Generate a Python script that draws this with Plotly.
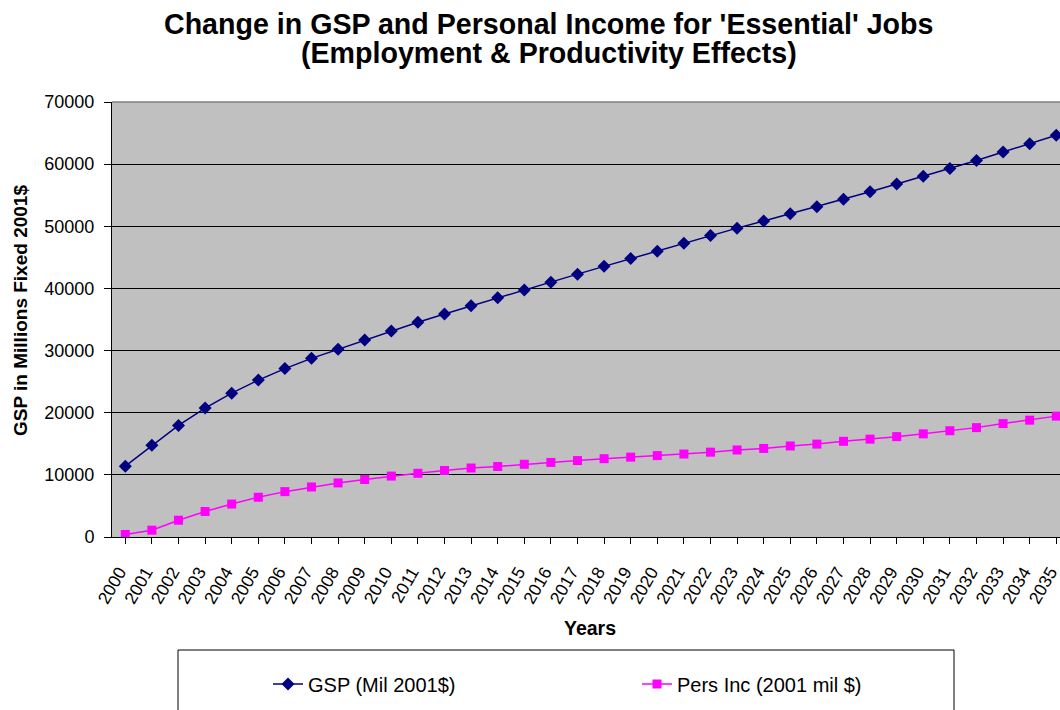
import plotly.graph_objects as go

years = [str(y) for y in range(2000, 2036)]
gsp = [11400, 14750, 17950, 20750, 23150, 25250, 27100, 28750, 30200, 31700,
       33150, 34550, 35900, 37200, 38500, 39750, 41000, 42300, 43550, 44800,
       46000, 47250, 48500, 49700, 50850, 52000, 53150, 54350, 55550, 56800,
       58050, 59300, 60600, 61950, 63300, 64650]
pers_inc = [400, 1100, 2700, 4100, 5300, 6400, 7300, 8050, 8700, 9250,
            9800, 10250, 10700, 11100, 11350, 11700, 12000, 12300, 12600, 12850,
            13100, 13350, 13650, 14000, 14250, 14650, 14950, 15400, 15750, 16150,
            16600, 17100, 17600, 18250, 18800, 19450]

title_lines = ["Change in GSP and Personal Income for 'Essential' Jobs",
               "(Employment &amp; Productivity Effects)"]
x_title = "Years"
y_title = "GSP in Millions Fixed 2001$"

FONT = "Liberation Sans, Arial, sans-serif"

# pixel helpers for the 1060x710 canvas (plot area 112..1060 x 102..537)
L, R, T, B = 112, 1060, 102, 537
def px(x):
    return (x - L) / (R - L)
def py(y):
    return (B - y) / (B - T)

fig = go.Figure()
fig.add_trace(go.Scatter(
    x=years, y=gsp, mode="lines+markers", name="GSP (Mil 2001$)",
    line=dict(color="#000080", width=1.5),
    marker=dict(symbol="diamond", size=10, color="#000080"),
    legend="legend",
))
fig.add_trace(go.Scatter(
    x=years, y=pers_inc, mode="lines+markers", name="Pers Inc (2001 mil $)",
    line=dict(color="#FF00FF", width=1.5),
    marker=dict(symbol="square", size=9, color="#FF00FF"),
    legend="legend2",
))

leg_common = dict(orientation="h", yanchor="middle", xanchor="left",
                  font=dict(size=20, family=FONT, color="black"),
                  bgcolor="rgba(0,0,0,0)", borderwidth=0)

fig.update_layout(
    width=1060, height=710,
    margin=dict(l=L, r=1060 - R, t=T, b=710 - B, autoexpand=False),
    paper_bgcolor="white",
    plot_bgcolor="#C0C0C0",
    font=dict(family=FONT, color="black", size=18),
    showlegend=True,
    legend=dict(x=px(268), y=py(684), **leg_common),
    legend2=dict(x=px(637), y=py(684), **leg_common),
    xaxis=dict(
        type="category", range=[-0.5, 35.14], automargin=False,
        tickangle=-60, ticks="outside", ticklen=6, tickcolor="black",
        ticklabelstandoff=11, ticklabelshift=-6,
        showline=True, linecolor="black", linewidth=1,
        showgrid=False, tickfont=dict(size=17.5, family=FONT),
    ),
    yaxis=dict(
        range=[0, 70000], dtick=10000, tickformat="d", automargin=False,
        ticks="outside", ticklen=7, tickcolor="black",
        ticklabelstandoff=6,
        showline=True, linecolor="black", linewidth=1,
        showgrid=True, gridcolor="black", gridwidth=1, zeroline=False,
        tickfont=dict(size=18, family=FONT),
    ),
)

annos = [
    dict(text="<b>" + title_lines[0] + "</b>", x=px(548), y=py(24), font=dict(size=28.6)),
    dict(text="<b>" + title_lines[1] + "</b>", x=px(549), y=py(53), font=dict(size=28.6)),
    dict(text="<b>" + x_title + "</b>", x=px(590), y=py(628), font=dict(size=19.5)),
    dict(text="<b>" + y_title + "</b>", x=px(20), y=py(311), font=dict(size=19), textangle=-90),
]
for a in annos:
    a["font"]["family"] = FONT
    a["font"]["color"] = "black"
    fig.add_annotation(xref="paper", yref="paper", xanchor="center", yanchor="middle",
                       showarrow=False, **a)

# plot area top border (gray)
fig.add_shape(type="line", xref="paper", yref="paper", x0=0, x1=1, y0=1, y1=1,
              line=dict(color="#808080", width=1.5), layer="above")
# legend box (bottom edge cropped like the reference)
fig.add_shape(type="rect", xref="paper", yref="paper",
              x0=px(178), x1=px(954), y0=py(730), y1=py(650),
              line=dict(color="black", width=1), fillcolor="rgba(0,0,0,0)")

fig.write_html("out.html")
